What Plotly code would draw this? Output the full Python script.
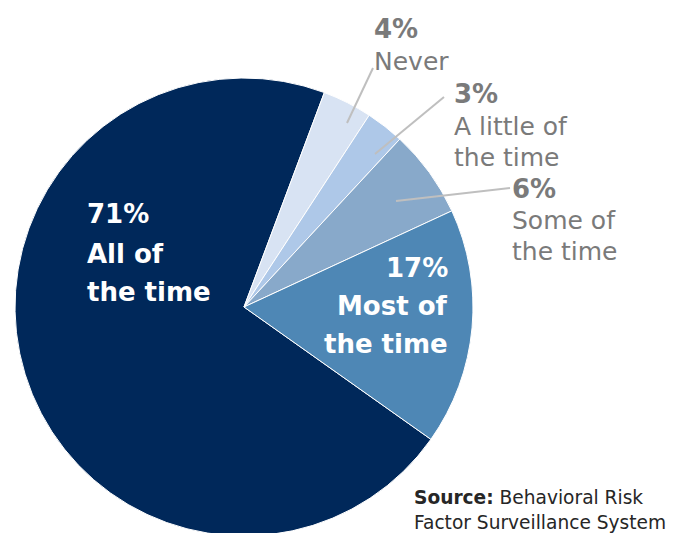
import plotly.graph_objects as go

W, H = 679, 533
OFF = 8  # page body margin offset in the browser

categories = ["All of the time", "Never", "A little of the time", "Some of the time", "Most of the time"]
values = [70.9, 3.5, 2.7, 6.2, 16.7]          # slice shares
pct_labels = ["71%", "4%", "3%", "6%", "17%"]  # printed labels
colors = ["#00285a", "#d8e3f3", "#aec8e8", "#88a9ca", "#4e87b5"]

FONT = "DejaVu Sans"

def px(x):
    return (x - OFF) / W

def py(y):
    return 1 - (y - OFF) / H

# pie centre (244, 307), radius 229 in window pixels
CX, CY, R = 244, 307, 229

fig = go.Figure(go.Pie(
    labels=categories,
    values=values,
    sort=False,
    direction="clockwise",
    rotation=125.3,
    textinfo="none",
    hoverinfo="label+percent",
    marker=dict(colors=colors, line=dict(color="white", width=1)),
    domain=dict(x=[px(CX - R), px(CX + R)], y=[py(CY + R), py(CY - R)]),
    showlegend=False,
))

annotations = []

def add(text, x, y, size, color, anchor="left", bold=False):
    t = f"<b>{text}</b>" if bold else text
    annotations.append(dict(
        text=t, x=px(x), y=py(y), xref="paper", yref="paper",
        xanchor=anchor, yanchor="middle", showarrow=False,
        font=dict(family=FONT, size=size, color=color),
    ))

# inside labels
add(pct_labels[0], 85, 214, 26, "white", bold=True)
add("All of", 85, 254, 26, "white", bold=True)
add("the time", 85, 292, 26, "white", bold=True)
add(pct_labels[4], 450, 268, 26, "white", anchor="right", bold=True)
add("Most of", 450, 306, 26, "white", anchor="right", bold=True)
add("the time", 450, 344, 26, "white", anchor="right", bold=True)

GRAY = "#7a7a7a"
add(pct_labels[1], 372, 29, 26, GRAY, bold=True)
add("Never", 372, 62, 25, GRAY)
add(pct_labels[2], 452, 94, 26, GRAY, bold=True)
add("A little of", 452, 126, 25, GRAY)
add("the time", 452, 157, 25, GRAY)
add(pct_labels[3], 510, 189, 26, GRAY, bold=True)
add("Some of", 510, 220, 25, GRAY)
add("the time", 510, 251, 25, GRAY)

add("<b>Source:</b> Behavioral Risk", 412, 497, 18.6, "#262626")
add("Factor Surveillance System", 412, 522, 18.6, "#262626")

leaders = [((347, 123), (373, 68)), ((375, 154), (444, 97)), ((396, 201), (510, 188))]
shapes = []
for (x0, y0), (x1, y1) in leaders:
    shapes.append(dict(type="line", xref="paper", yref="paper",
                       x0=px(x0), y0=py(y0), x1=px(x1), y1=py(y1),
                       line=dict(color="#bfbfbf", width=2)))

fig.update_layout(
    width=W, height=H,
    margin=dict(l=0, r=0, t=0, b=0),
    paper_bgcolor="white", plot_bgcolor="white",
    annotations=annotations, shapes=shapes,
)

fig.write_html("out.html")
